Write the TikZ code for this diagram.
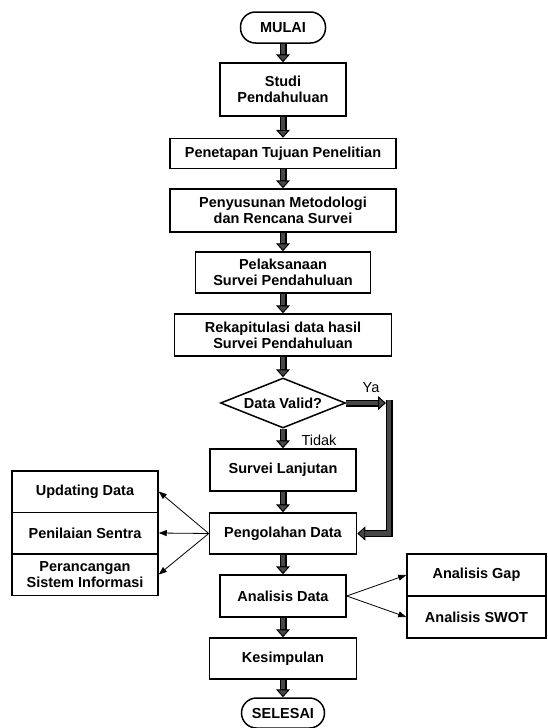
\documentclass[tikz,border=0pt]{standalone}
\usepackage{fontspec}
\setmainfont{Liberation Sans}
\usetikzlibrary{arrows.meta,shapes.geometric}

\tikzset{
 box/.style={draw, line width=1.5pt, align=center, inner sep=0pt,
   font=\fontsize{14.5}{16}\selectfont\bfseries},
 term/.style={box, rounded corners=15pt},
 flow/.style={draw=black, line width=7pt,
   -{Triangle[length=8pt,width=14pt,line width=1pt,fill=black!72]},
   postaction={draw=black!72, line width=4.4pt, -, shorten >=8pt}},
 link/.style={line width=0.8pt, -{Triangle[length=8pt,width=6pt]}},
 lbl/.style={font=\fontsize{14.5}{16}\selectfont, inner sep=0pt}
}

\begin{document}
\begin{tikzpicture}[x=1pt,y=-1pt]
 \useasboundingbox (0,0) rectangle (547,728);
 % main column
 \node [term, minimum width=85, minimum height=31] (mulai) at (283,27.5) {MULAI};
 \node [box, minimum width=126, minimum height=53] (studi) at (283,89.5) {Studi\\Pendahuluan};
 \node [box, minimum width=226, minimum height=30] (tujuan) at (283,153.5) {Penetapan Tujuan Penelitian};
 \node [box, minimum width=226, minimum height=43] (metode) at (283,210.5) {Penyusunan Metodologi\\dan Rencana Survei};
 \node [box, minimum width=175, minimum height=41] (laksana) at (283,272.5) {Pelaksanaan\\Survei Pendahuluan};
 \node [box, minimum width=217, minimum height=42] (rekap) at (283,335) {Rekapitulasi data hasil\\Survei Pendahuluan};
 \node [box, diamond, aspect=2.5, minimum width=125, minimum height=50] (valid) at (283,403) {Data Valid?};
 \node [box, minimum width=146, minimum height=42] (lanjut) at (283,470) {Survei Lanjutan};
 \node [box, minimum width=147, minimum height=41] (olah) at (283,533.5) {Pengolahan Data};
 \node [box, minimum width=126, minimum height=42] (analisis) at (283,596) {Analisis Data};
 \node [box, minimum width=147, minimum height=41] (simpul) at (283,658.5) {Kesimpulan};
 \node [term, minimum width=83, minimum height=30] (selesai) at (283,713) {SELESAI};
 % side boxes
 \node [box, minimum width=146, minimum height=41.5] (update) at (85,491.5) {Updating Data};
 \node [box, minimum width=146, minimum height=41.5] (nilai) at (85,533) {Penilaian Sentra};
 \node [box, minimum width=146, minimum height=41.5] (rancang) at (85,574.5) {Perancangan\\Sistem Informasi};
 \node [box, minimum width=139, minimum height=42] (gap) at (476.5,575) {Analisis Gap};
 \node [box, minimum width=139, minimum height=42] (swot) at (476.5,617) {Analisis SWOT};
 % labels
 \node [lbl] (ya) at (371,388) {Ya};
 \node [lbl] (tidak) at (319,440) {Tidak};
 \coordinate (yaend) at (386,403);
 \coordinate (yacorner) at (389,400);

 \draw [flow] (mulai) -- (studi);
 \draw [flow] (studi) -- (tujuan);
 \draw [flow] (tujuan) -- (metode);
 \draw [flow] (metode) -- (laksana);
 \draw [flow] (laksana) -- (rekap);
 \draw [flow] (rekap) -- (valid);
 \draw [flow] (valid) -- (lanjut);
 \draw [flow] (lanjut) -- (olah);
 \draw [flow] (olah) -- (analisis);
 \draw [flow] (analisis) -- (simpul);
 \draw [flow] (simpul) -- (selesai);
 \draw [flow] (valid.east) -- (yaend);
 \draw [flow, line join=miter] (yacorner) |- (olah.east);

 \draw [link] (olah.west) -- (update.east);
 \draw [link] (olah.west) -- (nilai.east);
 \draw [link] (olah.west) -- (rancang.east);
 \draw [link] (analisis.east) -- (gap.west);
 \draw [link] (analisis.east) -- (swot.west);
\end{tikzpicture}
\end{document}
